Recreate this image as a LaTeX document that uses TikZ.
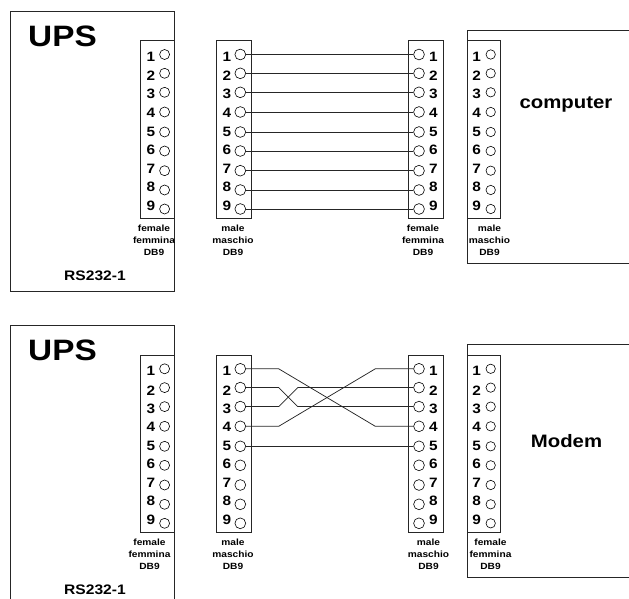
\documentclass[tikz,border=0pt]{standalone}
\usepackage{fontspec}
\setmainfont{Liberation Sans}
\newfontfamily\wideb[FakeStretch=1.13]{Liberation Sans Bold}
\tikzset{
  wire/.style={line width=0.75pt,black!85},
  frame/.style={line width=0.8pt,black!85},
  pin/.style={circle,draw,line width=0.6pt,inner sep=0pt,minimum size=#1},
  pin/.default=10.4pt,
  num/.style={font=\wideb\fontsize{13.6}{13.6}\selectfont,inner sep=0pt},
  tiny/.style={font=\wideb\fontsize{9}{9}\selectfont,inner sep=0pt},
  title/.style={font=\wideb\fontsize{#1}{#1}\selectfont,inner sep=0pt}
}
% name, left, right, vertical offset, pin x, number x, pin size
\newcommand{\dbnine}[7]{%
  \draw[frame] (#2,40.8+#4) rectangle (#3,218.5+#4);
  \foreach \n/\py/\ty in {1/54.5/57,2/73.3/76,3/92.3/94.3,4/112/113,5/132/132,6/151/150,7/170.7/169,8/190/187,9/209/205.7}{
    \node[pin=#7] (#1p\n) at (#5,\py+#4) {};
    \node[num] (#1n\n) at (#6,\ty+#4) {\n};
  }%
}
% name, centre x, y1, y2, y3, first line, second line
\newcommand{\dblabel}[7]{%
  \node[tiny] (#1a) at (#2,#3) {#6};
  \node[tiny] (#1b) at (#2,#4) {#7};
  \node[tiny] (#1c) at (#2,#5) {DB9};
}
\begin{document}
\begin{tikzpicture}[x=1pt,y=-1pt]
\useasboundingbox (0,0) rectangle (629,599);
% === top drawing ===
\draw[frame] (10.3,11.5) rectangle (174.5,291.5);
\node[title=29.5] (upsA) at (62.5,36.5) {UPS};
\node[title=13.8] (rsA) at (95,276) {RS232-1};
\dbnine{a}{140}{174}{0}{164.6}{151}{10pt}
\dbnine{b}{216.7}{251}{0}{240.3}{227}{10.8pt}
\dbnine{c}{408.7}{443.3}{0}{419}{433.3}{10.8pt}
\draw[frame] (629,30.8) -- (467.3,30.8) -- (467.3,263) -- (629,263);
\dbnine{d}{467.3}{500.7}{0}{490.7}{476.7}{9.4pt}
\node[title=18] (comp) at (566,104) {computer};
\dblabel{la}{154}{228}{240}{252.5}{female}{femmina}
\dblabel{lb}{233}{228}{240}{252.5}{male}{maschio}
\dblabel{lc}{423}{228}{240}{252.5}{female}{femmina}
\dblabel{ld}{489.5}{228}{240}{252.5}{male}{maschio}
\foreach \n in {1,...,9}{\draw[wire] (bp\n) -- (cp\n);}
% === bottom drawing ===
\draw[frame] (10.3,599) -- (10.3,325.8) -- (174.5,325.8) -- (174.5,599);
\node[title=29.5] (upsB) at (62.5,350.8) {UPS};
\node[title=13.8] (rsB) at (95,589.5) {RS232-1};
\dbnine{e}{140}{174}{314.3}{164.6}{151}{10pt}
\dbnine{f}{216.7}{251}{314.3}{240.3}{227}{10.8pt}
\dbnine{g}{408.7}{443.3}{314.3}{419}{433.3}{10.8pt}
\draw[frame] (629,344.8) -- (467.3,344.8) -- (467.3,577) -- (629,577);
\dbnine{h}{467.3}{500.7}{314.3}{490.7}{476.7}{9.4pt}
\node[title=18] (modem) at (566.5,441.5) {Modem};
\dblabel{le}{149.5}{542.7}{554}{566}{female}{femmina}
\dblabel{lf}{233}{542.7}{554}{566}{male}{maschio}
\dblabel{lg}{428.5}{542.7}{554}{566}{male}{maschio}
\dblabel{lh}{490.5}{542.7}{554}{566}{female}{femmina}
\draw[wire] (fp1) -- (278.7,0 |- fp1) -- (375.3,0 |- gp4) -- (gp4);
\draw[wire] (fp4) -- (278.7,0 |- fp4) -- (375.3,0 |- gp1) -- (gp1);
\draw[wire] (fp2) -- (278.7,0 |- fp2) -- (297.7,0 |- gp3) -- (gp3);
\draw[wire] (fp3) -- (278.7,0 |- fp3) -- (297.7,0 |- gp2) -- (gp2);
\draw[wire] (fp5) -- (gp5);
\end{tikzpicture}
\end{document}
